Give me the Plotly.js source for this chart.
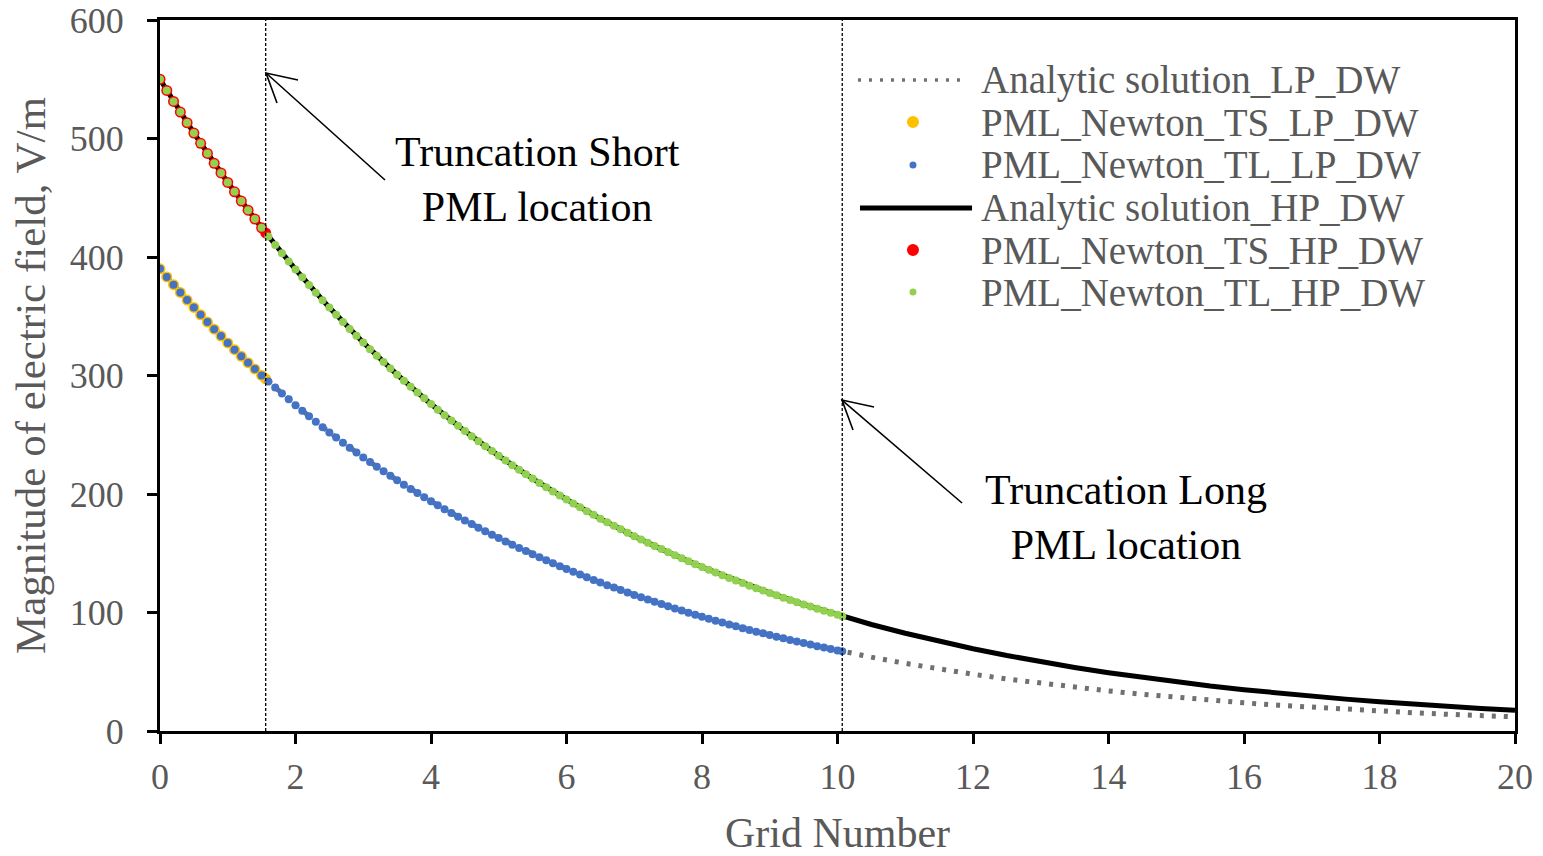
<!DOCTYPE html>
<html>
<head>
<meta charset="utf-8">
<script src="https://cdn.plot.ly/plotly-3.0.1.min.js"></script>
<style>html,body{margin:0;padding:0;background:#fff;}#chart{width:1543px;height:856px;}</style>
</head>
<body>
<div id="chart"></div>
<script>
// ---------- data ----------
var xAxisTicks = [0, 2, 4, 6, 8, 10, 12, 14, 16, 18, 20];
var yAxisTicks = [0, 100, 200, 300, 400, 500, 600];
var truncationX = [1.56, 10.07];

// analytic solutions (grid 0..20, step 0.5)
var anX = [0,0.5,1,1.5,2,2.5,3,3.5,4,4.5,5,5.5,6,6.5,7,7.5,8,8.5,9,9.5,10,10.5,11,11.5,12,12.5,13,13.5,14,14.5,15,15.5,16,16.5,17,17.5,18,18.5,19,19.5,20];
var anHP = [550,504.6,462.9,424.6,389.5,357.3,327.8,300.7,275.9,253.1,232.2,213.0,195.4,179.2,164.4,150.8,138.4,126.9,116.5,106.8,98.0,89.9,82.5,75.7,69.4,63.7,58.4,53.6,49.2,45.1,41.4,37.9,34.8,31.9,29.3,26.9,24.7,22.6,20.8,19.0,17.5];
var anLP = [390,357.4,327.5,300.1,275.0,252.0,230.9,211.6,193.9,177.7,162.8,149.2,136.7,125.3,114.8,105.2,96.4,88.4,81.0,74.2,68.0,62.3,57.1,52.3,47.9,43.9,40.3,36.9,33.8,31.0,28.4,26.0,23.8,21.8,20.0,18.3,16.8,15.4,14.1,12.9,11.9];

// PML Newton, truncation short
var tsX = [0,0.1,0.2,0.3,0.4,0.5,0.6,0.7,0.8,0.9,1.0,1.1,1.2,1.3,1.4,1.5,1.56];
var tsHP = [550,540.6,531.3,522.3,513.3,504.6,495.9,487.4,479.1,470.9,462.9,455.0,447.2,439.5,432.0,424.6,420.3];
var tsLP = [390,383.2,376.6,370.1,363.7,357.4,351.2,345.1,339.1,333.3,327.5,321.8,316.2,310.8,305.4,300.1,297.2];

// PML Newton, truncation long
var tlX = [0,0.1,0.2,0.3,0.4,0.5,0.6,0.7,0.8,0.9,
  1.0,1.1,1.2,1.3,1.4,1.5,1.6,1.7,1.8,1.9,
  2.0,2.1,2.2,2.3,2.4,2.5,2.6,2.7,2.8,2.9,
  3.0,3.1,3.2,3.3,3.4,3.5,3.6,3.7,3.8,3.9,
  4.0,4.1,4.2,4.3,4.4,4.5,4.6,4.7,4.8,4.9,
  5.0,5.1,5.2,5.3,5.4,5.5,5.6,5.7,5.8,5.9,
  6.0,6.1,6.2,6.3,6.4,6.5,6.6,6.7,6.8,6.9,
  7.0,7.1,7.2,7.3,7.4,7.5,7.6,7.7,7.8,7.9,
  8.0,8.1,8.2,8.3,8.4,8.5,8.6,8.7,8.8,8.9,
  9.0,9.1,9.2,9.3,9.4,9.5,9.6,9.7,9.8,9.9,
  10.0,10.07];
var tlHP = [550,540.6,531.3,522.3,513.3,504.6,495.9,487.4,479.1,470.9,
  462.9,455.0,447.2,439.5,432.0,424.6,417.4,410.2,403.2,396.3,
  389.5,382.9,376.3,369.9,363.6,357.3,351.2,345.2,339.3,333.5,
  327.8,322.2,316.7,311.3,306.0,300.7,295.6,290.5,285.6,280.7,
  275.9,271.2,266.5,262.0,257.5,253.1,248.7,244.5,240.3,236.2,
  232.2,228.2,224.3,220.5,216.7,213.0,209.3,205.8,202.2,198.8,
  195.4,192.0,188.8,185.5,182.4,179.2,176.2,173.2,170.2,167.3,
  164.4,161.6,158.8,156.1,153.5,150.8,148.3,145.7,143.2,140.8,
  138.4,136.0,133.7,131.4,129.1,126.9,124.8,122.6,120.5,118.5,
  116.5,114.5,112.5,110.6,108.7,106.8,105.0,103.2,101.4,99.7,
  98.0,96.8];
var tlLP = [390,383.2,376.6,370.1,363.7,357.4,351.2,345.1,339.1,333.3,
  327.5,321.8,316.2,310.8,305.4,300.1,294.9,289.8,284.8,279.9,
  275.0,270.2,265.6,261.0,256.4,252.0,247.6,243.3,239.1,235.0,
  230.9,226.9,223.0,219.1,215.3,211.6,207.9,204.3,200.8,197.3,
  193.9,190.5,187.2,184.0,180.8,177.7,174.6,171.6,168.6,165.7,
  162.8,160.0,157.2,154.5,151.8,149.2,146.6,144.1,141.6,139.1,
  136.7,134.4,132.0,129.7,127.5,125.3,123.1,121.0,118.9,116.8,
  114.8,112.8,110.9,109.0,107.1,105.2,103.4,101.6,99.8,98.1,
  96.4,94.7,93.1,91.5,89.9,88.4,86.8,85.3,83.8,82.4,
  81.0,79.6,78.2,76.8,75.5,74.2,72.9,71.6,70.4,69.2,
  68.0,67.2];

var seriesNames = ["Analytic solution_LP_DW","PML_Newton_TS_LP_DW","PML_Newton_TL_LP_DW",
                   "Analytic solution_HP_DW","PML_Newton_TS_HP_DW","PML_Newton_TL_HP_DW"];
var noteShort = "Truncation Short<br>PML location";
var noteLong = "Truncation Long<br>PML location";

// ---------- styles ----------
var FONT = "Liberation Serif, 'Times New Roman', serif";
var GREY = "#595959";
var C_YEL = "#FFC000", C_BLUE = "#4472C4", C_RED = "#FF0000", C_GREEN = "#92D050";

var traces = [
  {x: anX, y: anLP, name: seriesNames[0], mode: "lines", line: {color: "#707070", width: 5, dash: "4px,8px"}},
  {x: tsX, y: tsLP, name: seriesNames[1], mode: "markers", marker: {color: C_YEL, size: 11}},
  {x: tlX, y: tlLP, name: seriesNames[2], mode: "markers", marker: {color: C_BLUE, size: 8}},
  {x: anX, y: anHP, name: seriesNames[3], mode: "lines", line: {color: "#000", width: 5}},
  {x: tsX, y: tsHP, name: seriesNames[4], mode: "markers", marker: {color: C_RED, size: 11}},
  {x: tlX, y: tlHP, name: seriesNames[5], mode: "markers", marker: {color: C_GREEN, size: 8}}
];
traces.forEach(function(t){ t.showlegend = false; t.hoverinfo = "x+y+name"; });

// manual legend (paper coords) to match the compact spacing of the reference
var legRowsY = [0.9156, 0.8565, 0.7961, 0.7356, 0.6765, 0.6174];
var legTextX = 0.6045, legDotX = 0.5557;
var annotations = [];
var shapes = [];
seriesNames.forEach(function(n, i){
  annotations.push({xref: "paper", yref: "paper", x: legTextX, y: legRowsY[i], text: n,
    showarrow: false, xanchor: "left", yanchor: "middle", font: {family: FONT, size: 39, color: GREY}});
});
shapes.push({type: "line", xref: "paper", yref: "paper", x0: 0.5151, x1: 0.5963, y0: legRowsY[0], y1: legRowsY[0],
  line: {color: "#707070", width: 3.5, dash: "3px,8px"}});
shapes.push({type: "line", xref: "paper", yref: "paper", x0: 0.5166, x1: 0.5993, y0: legRowsY[3], y1: legRowsY[3],
  line: {color: "#000", width: 5}});
[[1, C_YEL, 6], [2, C_BLUE, 3.5], [4, C_RED, 6], [5, C_GREEN, 3.5]].forEach(function(d){
  shapes.push({type: "circle", xref: "paper", yref: "paper", xsizemode: "pixel", ysizemode: "pixel",
    xanchor: legDotX, yanchor: legRowsY[d[0]], x0: -d[2], x1: d[2], y0: -d[2], y1: d[2],
    fillcolor: d[1], line: {width: 0}});
});

// truncation lines
truncationX.forEach(function(xv){
  shapes.push({type: "line", xref: "x", yref: "paper", x0: xv, x1: xv, y0: 0, y1: 1,
    line: {color: "#000", width: 1.3, dash: "3px,2px"}, layer: "above"});
});

// arrows (shaft + open head)
shapes.push({type: "path", xref: "x", yref: "y", path: "M 3.321 465.0 L 1.565 555.3", line: {color: "#000", width: 1.6}});
shapes.push({type: "path", xref: "x", yref: "y", path: "M 2.037 549.4 L 1.565 555.3 L 1.727 530.0", line: {color: "#000", width: 1.6}});
shapes.push({type: "path", xref: "x", yref: "y", path: "M 11.838 192.4 L 10.066 279.3", line: {color: "#000", width: 1.6}});
shapes.push({type: "path", xref: "x", yref: "y", path: "M 10.539 273.4 L 10.066 279.3 L 10.229 254.0", line: {color: "#000", width: 1.6}});

annotations.push({xref: "x", yref: "y", x: 5.579, y: 465.5, text: noteShort, showarrow: false,
  font: {family: FONT, size: 42, color: "#000"}, align: "center"});
annotations.push({xref: "x", yref: "y", x: 14.258, y: 180.5, text: noteLong, showarrow: false,
  font: {family: FONT, size: 42, color: "#000"}, align: "center"});

var axisCommon = {
  showline: true, linecolor: "#000", linewidth: 3, mirror: true,
  ticks: "outside", ticklen: 10, tickwidth: 3, tickcolor: "#000",
  showgrid: false, zeroline: false,
  tickfont: {family: FONT, size: 36, color: GREY},
  automargin: false
};

var layout = {
  width: 1543, height: 856,
  margin: {l: 160, r: 28, t: 20, b: 125},
  paper_bgcolor: "#fff", plot_bgcolor: "#fff",
  font: {family: FONT},
  xaxis: Object.assign({}, axisCommon, {range: [0, 20], tickvals: xAxisTicks, ticktext: xAxisTicks.map(String),
    ticklabelstandoff: 2,
    title: {text: "Grid Number", font: {family: FONT, size: 42, color: GREY}, standoff: 28}}),
  yaxis: Object.assign({}, axisCommon, {range: [0, 600], tickvals: yAxisTicks, ticktext: yAxisTicks.map(String),
    ticklabelstandoff: 16,
    title: {text: "Magnitude of electric field, V/m", font: {family: FONT, size: 43, color: GREY}, standoff: 11}}),
  annotations: annotations,
  shapes: shapes,
  showlegend: false
};

Plotly.newPlot("chart", traces, layout, {displayModeBar: false, responsive: false});
</script>
</body>
</html>
